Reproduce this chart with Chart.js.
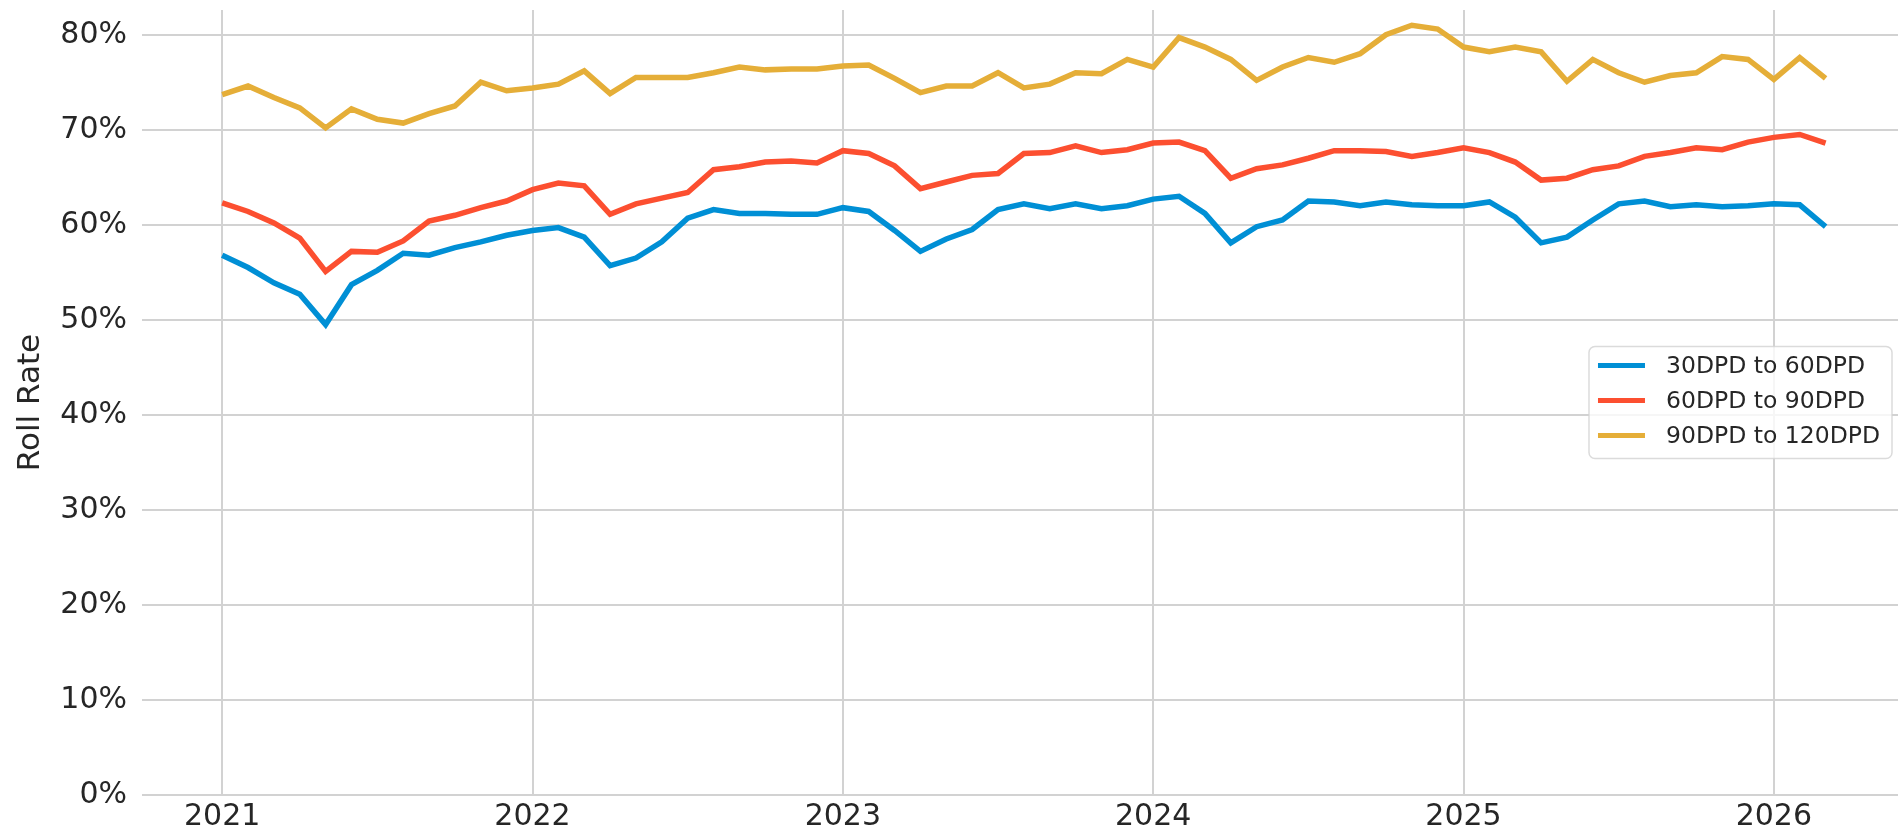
<!DOCTYPE html>
<html>
<head>
<meta charset="utf-8">
<script src="https://cdn.jsdelivr.net/npm/chart.js@4.4.1/dist/chart.umd.min.js"></script>
<style>
  html, body { margin: 0; padding: 0; background: #fff; }
  #wrap { width: 1898px; height: 833px; }
</style>
</head>
<body>
<div id="wrap"><canvas id="roll-chart" width="1898" height="833"></canvas></div>
<script>
// Monthly roll rates, Jan 2021 .. Mar 2026 (63 months), in percent.
const yearLabels = ['2021', '2022', '2023', '2024', '2025', '2026'];
const yearTickIndex = [0, 12, 24, 36, 48, 60];
const percentTicks = [0, 10, 20, 30, 40, 50, 60, 70, 80];

const seriesNames = ['30DPD to 60DPD', '60DPD to 90DPD', '90DPD to 120DPD'];
const seriesColors = ['#008fd5', '#fc4f30', '#e5ae38'];

const roll30to60 = [
    56.8, 55.5, 53.9, 52.7, 49.5, 53.7, 55.2, 57.0, 56.8, 57.6, 58.2, 58.9,
    59.4, 59.7, 58.7, 55.7, 56.5, 58.2, 60.7, 61.6, 61.2, 61.2, 61.1, 61.1,
    61.8, 61.4, 59.4, 57.2, 58.5, 59.5, 61.6, 62.2, 61.7, 62.2, 61.7, 62.0,
    62.7, 63.0, 61.2, 58.1, 59.8, 60.5, 62.5, 62.4, 62.0, 62.4, 62.1, 62.0,
    62.0, 62.4, 60.8, 58.1, 58.7, 60.5, 62.2, 62.5, 61.9, 62.1, 61.9, 62.0,
    62.2, 62.1, 59.8,
];
const roll60to90 = [
    62.3, 61.4, 60.2, 58.6, 55.1, 57.2, 57.1, 58.3, 60.4, 61.0, 61.8, 62.5,
    63.7, 64.4, 64.1, 61.1, 62.2, 62.8, 63.4, 65.8, 66.1, 66.6, 66.7, 66.5,
    67.8, 67.5, 66.2, 63.8, 64.5, 65.2, 65.4, 67.5, 67.6, 68.3, 67.6, 67.9,
    68.6, 68.7, 67.8, 64.9, 65.9, 66.3, 67.0, 67.8, 67.8, 67.7, 67.2, 67.6,
    68.1, 67.6, 66.6, 64.7, 64.9, 65.8, 66.2, 67.2, 67.6, 68.1, 67.9, 68.7,
    69.2, 69.5, 68.6,
];
const roll90to120 = [
    73.7, 74.6, 73.4, 72.3, 70.2, 72.2, 71.1, 70.7, 71.7, 72.5, 75.0, 74.1,
    74.4, 74.8, 76.2, 73.8, 75.5, 75.5, 75.5, 76.0, 76.6, 76.3, 76.4, 76.4,
    76.7, 76.8, 75.4, 73.9, 74.6, 74.6, 76.0, 74.4, 74.8, 76.0, 75.9, 77.4,
    76.6, 79.7, 78.7, 77.4, 75.2, 76.6, 77.6, 77.1, 78.0, 80.0, 81.0, 80.6,
    78.7, 78.2, 78.7, 78.2, 75.1, 77.4, 76.0, 75.0, 75.7, 76.0, 77.7, 77.4,
    75.3, 77.6, 75.4,
];

const allSeries = [roll30to60, roll60to90, roll90to120];

const TEXT = '#262626';
const GRID = '#d2d2d2';

// matplotlib-style legend box, centred on the right edge of the plot
const boxLegend = {
    id: 'boxLegend',
    afterDraw(chart) {
        const { ctx, chartArea } = chart;
        const sets = chart.data.datasets;
        const rowH = 35, sample = 47, padL = 9, gap = 21, padR = 12;
        ctx.save();
        ctx.font = '23.5px "DejaVu Sans"';
        const textW = Math.max(...sets.map((d) => ctx.measureText(d.label).width));
        const w = padL + sample + gap + textW + padR;
        const h = rowH * sets.length + 7;
        const right = chartArea.right - 6;
        const left = right - w;
        const top = (chartArea.top + chartArea.bottom) / 2 - h / 2;
        ctx.beginPath();
        ctx.roundRect(left, top, w, h, 6);
        ctx.fillStyle = 'rgba(255,255,255,0.8)';
        ctx.fill();
        ctx.strokeStyle = 'rgba(210,210,210,0.8)';
        ctx.lineWidth = 1.5;
        ctx.stroke();
        sets.forEach((d, i) => {
            const cy = top + 19 + i * rowH;
            ctx.beginPath();
            ctx.moveTo(left + padL, cy);
            ctx.lineTo(left + padL + sample, cy);
            ctx.strokeStyle = d.borderColor;
            ctx.lineWidth = 5;
            ctx.stroke();
            ctx.fillStyle = TEXT;
            ctx.textBaseline = 'middle';
            ctx.fillText(d.label, left + padL + sample + gap, cy + 1);
        });
        ctx.restore();
    },
};

new Chart(document.getElementById('roll-chart'), {
    type: 'line',
    data: {
        datasets: allSeries.map((values, k) => ({
            label: seriesNames[k],
            data: values.map((v, i) => ({ x: i, y: v })),
            borderColor: seriesColors[k],
            backgroundColor: seriesColors[k],
            borderWidth: 5.5,
            pointRadius: 0,
            tension: 0,
            fill: false,
        })),
    },
    options: {
        responsive: false,
        animation: false,
        devicePixelRatio: 1,
        layout: { padding: { top: 10, right: 0, left: 0, bottom: 0 } },
        plugins: { legend: { display: false }, tooltip: { enabled: false } },
        scales: {
            x: {
                type: 'linear',
                min: -3.1,
                max: 64.8,
                border: { display: false },
                grid: { color: GRID, lineWidth: 2, drawTicks: false },
                afterBuildTicks: (scale) => { scale.ticks = yearTickIndex.map((v) => ({ value: v })); },
                afterFit: (scale) => { scale.height = 38; scale.paddingLeft = 0; scale.paddingRight = 0; },
                ticks: {
                    color: TEXT,
                    padding: 4,
                    maxRotation: 0,
                    font: { family: 'DejaVu Sans', size: 30 },
                    callback: (v) => yearLabels[yearTickIndex.indexOf(v)],
                },
            },
            y: {
                min: 0,
                max: 82.6,
                border: { display: false },
                grid: { color: GRID, lineWidth: 2, drawTicks: false },
                afterBuildTicks: (scale) => { scale.ticks = percentTicks.map((v) => ({ value: v })); },
                afterFit: (scale) => { scale.width = 142; scale.paddingTop = 0; scale.paddingBottom = 0; },
                title: {
                    display: true,
                    text: 'Roll Rate',
                    color: TEXT,
                    font: { family: 'DejaVu Sans', size: 31 },
                    padding: { top: 12, bottom: 0 },
                },
                ticks: {
                    color: TEXT,
                    padding: 15,
                    font: { family: 'DejaVu Sans', size: 30 },
                    callback: (v) => v + '%',
                },
            },
        },
    },
    plugins: [boxLegend],
});
</script>
</body>
</html>
